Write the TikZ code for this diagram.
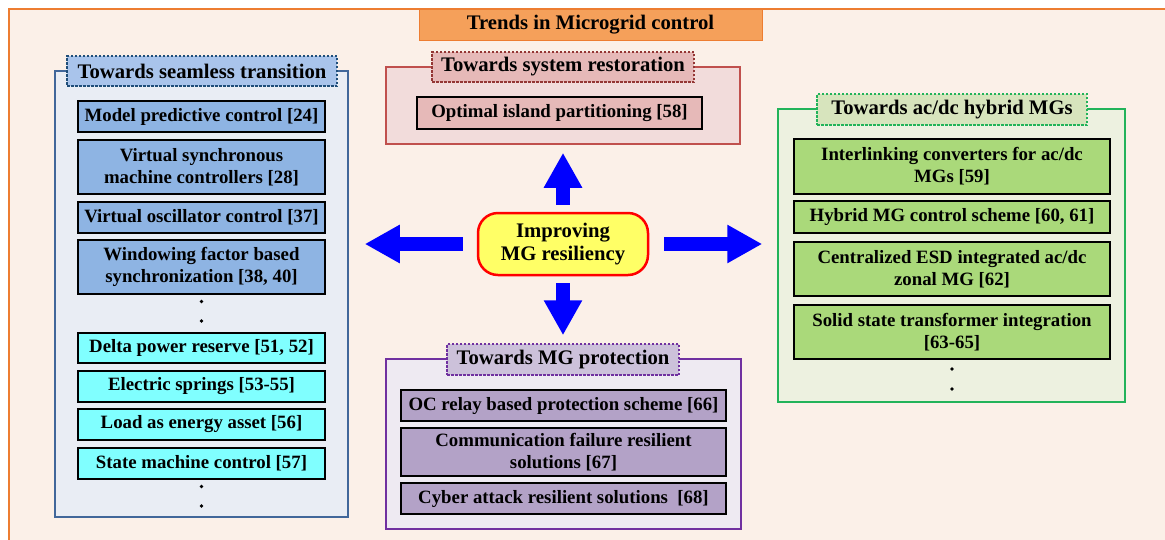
\documentclass[tikz,border=0pt]{standalone}
\usepackage{fontspec}
\setmainfont{Liberation Serif}
\usetikzlibrary{arrows.meta}
\definecolor{bgc}{HTML}{FBF0E8}
\definecolor{framec}{HTML}{ED7D31}
\definecolor{titlec}{HTML}{F5A05A}
\definecolor{lpfill}{HTML}{E9EDF4}
\definecolor{lpdraw}{HTML}{41679A}
\definecolor{lplab}{HTML}{A9C4EB}
\definecolor{lplabd}{HTML}{1F4E79}
\definecolor{blueitem}{HTML}{8EB4E3}
\definecolor{cyanitem}{HTML}{80FFFF}
\definecolor{tpdraw}{HTML}{C0504D}
\definecolor{tpfill}{HTML}{F2DCDB}
\definecolor{tplab}{HTML}{E6B9B8}
\definecolor{tplabd}{HTML}{943634}
\definecolor{rpdraw}{HTML}{22B35A}
\definecolor{rpfill}{HTML}{EDF1E0}
\definecolor{rplab}{HTML}{D7E4BD}
\definecolor{greenitem}{HTML}{AAD97A}
\definecolor{bpdraw}{HTML}{7030A0}
\definecolor{bpfill}{HTML}{EEEAF2}
\definecolor{bplab}{HTML}{CCC1DA}
\definecolor{purpleitem}{HTML}{B3A2C7}
\definecolor{arrowc}{HTML}{0000FF}
\definecolor{centerc}{HTML}{FFFF66}
\newcommand{\itemfont}{\fontsize{18.8}{22}\selectfont\bfseries}
\newcommand{\labfont}{\fontsize{20.7}{23}\selectfont\bfseries}
\newcommand{\mybox}[7]{\node[#6, minimum width={(#4-#2)*1pt}, minimum height={(#5-#3)*1pt}] (#1) at ({(#2+#4)/2},{(#3+#5)/2}) {#7};}
\tikzset{
  item/.style={draw=black, line width=1.6pt, inner sep=0pt, align=center, font=\itemfont},
  panel/.style={line width=1.5pt, inner sep=0pt},
  plabel/.style={line width=1.5pt, inner sep=0pt, dash pattern=on 2.5pt off 1.5pt, font=\labfont, align=center},
  bigarrow/.style={draw=arrowc, line width=14pt, -{Triangle[length=35pt,width=36pt]}},
  dotmark/.style={circle, fill=black, inner sep=0pt, minimum size=3.8pt},
}
\begin{document}
\begin{tikzpicture}[x=1pt,y=-1pt]
\useasboundingbox (0,0) rectangle (1165,539);
\fill[bgc] (9,9) rectangle (1166,540);
\draw[framec, line width=1.5pt] (9,541) -- (9,9) -- (1167,9);
% title
\mybox{title}{419}{9}{762}{40}{draw=framec, fill=titlec, line width=1pt, inner sep=0pt, font=\labfont}{Trends in Microgrid control}
% left panel
\mybox{lp}{55}{71}{348}{517}{panel, draw=lpdraw, fill=lpfill}{}
\mybox{lpl}{67}{56}{337}{86}{plabel, draw=lplabd, fill=lplab}{Towards seamless transition}
\mybox{l1}{78}{101}{325}{132}{item, fill=blueitem}{Model predictive control [24]}
\mybox{l2}{78}{140}{325}{194}{item, fill=blueitem}{Virtual synchronous\\machine controllers [28]}
\mybox{l3}{78}{202}{325}{233}{item, fill=blueitem}{Virtual oscillator control [37]}
\mybox{l4}{78}{240}{325}{294}{item, fill=blueitem}{Windowing factor based\\synchronization [38, 40]}
\node[dotmark] (ld1) at (201.5,301.5) {};
\node[dotmark] (ld2) at (201.5,321) {};
\mybox{l5}{78}{333}{325}{363}{item, fill=cyanitem}{Delta power reserve [51, 52]}
\mybox{l6}{78}{371}{325}{402}{item, fill=cyanitem}{Electric springs [53-55]}
\mybox{l7}{78}{409}{325}{440}{item, fill=cyanitem}{Load as energy asset [56]}
\mybox{l8}{78}{448}{325}{479}{item, fill=cyanitem}{State machine control [57]}
\node[dotmark] (ld3) at (201.5,486.5) {};
\node[dotmark] (ld4) at (201.5,506) {};
% top panel
\mybox{tp}{386}{67}{740}{144}{panel, draw=tpdraw, fill=tpfill}{}
\mybox{tpl}{432}{52}{694}{82}{plabel, draw=tplabd, fill=tplab}{Towards system restoration}
\mybox{t1}{417}{97}{702}{129}{item, fill=tplab}{Optimal island partitioning [58]}
% right panel
\mybox{rp}{778}{109}{1125}{402}{panel, draw=rpdraw, fill=rpfill}{}
\mybox{rpl}{817}{94}{1087}{125}{plabel, draw=rpdraw, fill=rplab}{Towards ac/dc hybrid MGs}
\mybox{r1}{794}{139}{1110}{194}{item, fill=greenitem}{Interlinking converters for ac/dc\\MGs [59]}
\mybox{r2}{794}{201}{1110}{233}{item, fill=greenitem}{Hybrid MG control scheme [60, 61]}
\mybox{r3}{794}{242}{1110}{296}{item, fill=greenitem}{Centralized ESD integrated ac/dc\\zonal MG [62]}
\mybox{r4}{794}{305}{1110}{359}{item, fill=greenitem}{Solid state transformer integration\\{}[63-65]}
\node[dotmark] (rd1) at (952,369) {};
\node[dotmark] (rd2) at (952,389) {};
% bottom panel
\mybox{bp}{386}{359}{741}{529}{panel, draw=bpdraw, fill=bpfill}{}
\mybox{bpl}{447}{344}{679}{375}{plabel, draw=bpdraw, fill=bplab}{Towards MG protection}
\mybox{b1}{401}{390}{726}{421}{item, fill=purpleitem}{OC relay based protection scheme [66]}
\mybox{b2}{401}{428}{726}{476}{item, fill=purpleitem}{Communication failure resilient\\solutions [67]}
\mybox{b3}{401}{483}{726}{514}{item, fill=purpleitem}{Cyber attack resilient solutions~~[68]}
% center
\mybox{c}{478}{213}{648}{275}{draw=red, fill=centerc, line width=2.5pt, rounded corners=20pt, inner sep=0pt, align=center, font=\fontsize{20.7}{23}\selectfont\bfseries}{Improving\\MG resiliency}
% arrows
\draw[bigarrow, shorten <=7pt, shorten >=8pt] (c.north) -- (c.north |- tp.south);
\draw[bigarrow, shorten <=7pt, shorten >=8pt] (c.south) -- (c.south |- bpl.north);
\draw[bigarrow, shorten <=14pt, shorten >=16pt] (c.west) -- (c.west -| lp.east);
\draw[bigarrow, shorten <=15pt, shorten >=15pt] (c.east) -- (c.east -| rp.west);
\end{tikzpicture}
\end{document}
